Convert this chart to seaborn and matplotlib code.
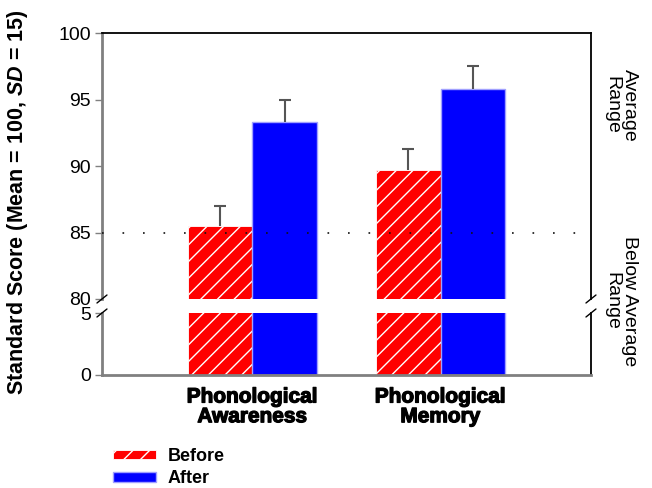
import matplotlib
matplotlib.use("Agg")
import matplotlib.pyplot as plt
import matplotlib.patheffects as pe
from matplotlib.patches import Patch
import seaborn as sns
import pandas as pd

# Data
skills = ["Phonological\nAwareness", "Phonological\nMemory"]
times = ["Before", "After"]
before_scores = [85.5, 89.7]
after_scores = [93.3, 95.8]
before_err = [1.5, 1.6]
after_err = [1.7, 1.7]
upper_ticks = [80, 85, 90, 95, 100]
lower_ticks = [0, 5]
average_cutoff = 85

df = pd.DataFrame({
    "Skill": skills + skills,
    "Time": [times[0]] * len(skills) + [times[1]] * len(skills),
    "Score": before_scores + after_scores,
})

sns.set_theme(style="white")
plt.rcParams["font.family"] = ["Liberation Sans", "DejaVu Sans"]
plt.rcParams["mathtext.fontset"] = "custom"
plt.rcParams["mathtext.rm"] = "Liberation Sans:bold"
plt.rcParams["mathtext.it"] = "Liberation Sans:italic:bold"
plt.rcParams["hatch.linewidth"] = 1.0
for key in ("text.color", "axes.labelcolor", "xtick.labelcolor", "ytick.labelcolor"):
    plt.rcParams[key] = "black"

RED = "#ff0000"
BLUE = "#0000ff"
BLUE_EDGE = "#a0a0ff"
GRAY = "#808080"
ERR = "#555555"

fig = plt.figure(figsize=(6.52, 4.88), dpi=100)
ax_top = fig.add_axes([0.1564, 0.3873, 0.75, 0.545])
ax_bot = fig.add_axes([0.1564, 0.2316, 0.75, 0.127])

for ax in (ax_top, ax_bot):
    sns.barplot(data=df, x="Skill", y="Score", hue="Time", hue_order=times,
                palette=[RED, BLUE], width=0.69, gap=0, errorbar=None,
                saturation=1, legend=False, ax=ax)
    before_bars, after_bars = ax.containers[0], ax.containers[1]
    for bar in before_bars:
        bar.set_hatch("//")
        bar.set_edgecolor("white")
        bar.set_linewidth(0.6)
    for bar in after_bars:
        bar.set_edgecolor(BLUE_EDGE)
        bar.set_linewidth(1.0)
    ax.set_xlim(-0.8, 1.8)
    ax.set_xlabel("")
    ax.set_ylabel("")

# One-sided (upper) error bars on the upper panel
cap_half = 0.032
for container, errs in zip(ax_top.containers[:2], [before_err, after_err]):
    for bar, e in zip(container, errs):
        xc = bar.get_x() + bar.get_width() / 2
        top = bar.get_height()
        ax_top.vlines(xc, top, top + e, color=ERR, lw=1.5, zorder=4)
        ax_top.hlines(top + e, xc - cap_half, xc + cap_half, color=ERR, lw=1.5, zorder=4)

ax_top.set_ylim(80, 100)
ax_top.set_yticks(upper_ticks)
ax_bot.set_ylim(0, 5)
ax_bot.set_yticks(lower_ticks)

# Dotted boundary between average and below-average range
ax_top.axhline(average_cutoff, color="#111111", lw=1.2, dashes=(1, 11.3), zorder=5)

# Spines
for ax in (ax_top, ax_bot):
    ax.spines["left"].set_color(GRAY)
    ax.spines["left"].set_linewidth(2)
    ax.spines["right"].set_color("black")
    ax.spines["right"].set_linewidth(1.3)
    ax.tick_params(axis="y", which="both", direction="out", length=5,
                   width=1, color=GRAY, labelsize=14, pad=3, left=True)
ax_top.spines["bottom"].set_visible(False)
ax_top.spines["top"].set_color("black")
ax_top.spines["top"].set_linewidth(1.3)
ax_bot.spines["top"].set_visible(False)
ax_bot.spines["bottom"].set_color(GRAY)
ax_bot.spines["bottom"].set_linewidth(2)

ax_top.tick_params(axis="x", bottom=False, labelbottom=False)
ax_bot.tick_params(axis="x", bottom=False, length=0, pad=9)
for lbl in ax_bot.get_xticklabels():
    lbl.set_fontsize(15)
    lbl.set_fontweight("bold")
    lbl.set_linespacing(1.05)
    lbl.set_path_effects([pe.withStroke(linewidth=0.9, foreground="black")])

# Axis break marks
dx_t, dy_t = 5 / 489, 4 / 266
dx_b, dy_b = 5 / 489, 4 / 62
for xpos in (0, 1):
    ax_top.plot([xpos - dx_t, xpos + dx_t], [-dy_t, dy_t], transform=ax_top.transAxes,
                color="black", lw=1, clip_on=False, zorder=6)
    ax_bot.plot([xpos - dx_b, xpos + dx_b], [1 - dy_b, 1 + dy_b], transform=ax_bot.transAxes,
                color="black", lw=1, clip_on=False, zorder=6)

# Y label across both panels
fig.text(0.027, 0.585, r"Standard Score (Mean = 100, $\mathit{SD}$ = 15)",
         rotation=90, ha="center", va="center", fontsize=15.5, fontweight="bold")

# Range labels on the right
fig.text(0.952, 0.785, "Average\nRange", rotation=270, ha="center", va="center",
         fontsize=14, linespacing=1.0)
fig.text(0.952, 0.383, "Below Average\nRange", rotation=270, ha="center", va="center",
         fontsize=14, linespacing=1.0)

# Legend
handles = [Patch(facecolor=RED, edgecolor="white", hatch="//", lw=0.6),
           Patch(facecolor=BLUE, edgecolor=BLUE_EDGE, lw=1.0)]
fig.legend(handles, times, loc="upper left", bbox_to_anchor=(0.173, 0.082),
           bbox_transform=fig.transFigure, frameon=False, borderpad=0,
           borderaxespad=0, handlelength=2.4, handleheight=0.45,
           labelspacing=0.3, handletextpad=0.65,
           prop={"weight": "bold", "size": 13})

fig.savefig("out.png", dpi=100)
